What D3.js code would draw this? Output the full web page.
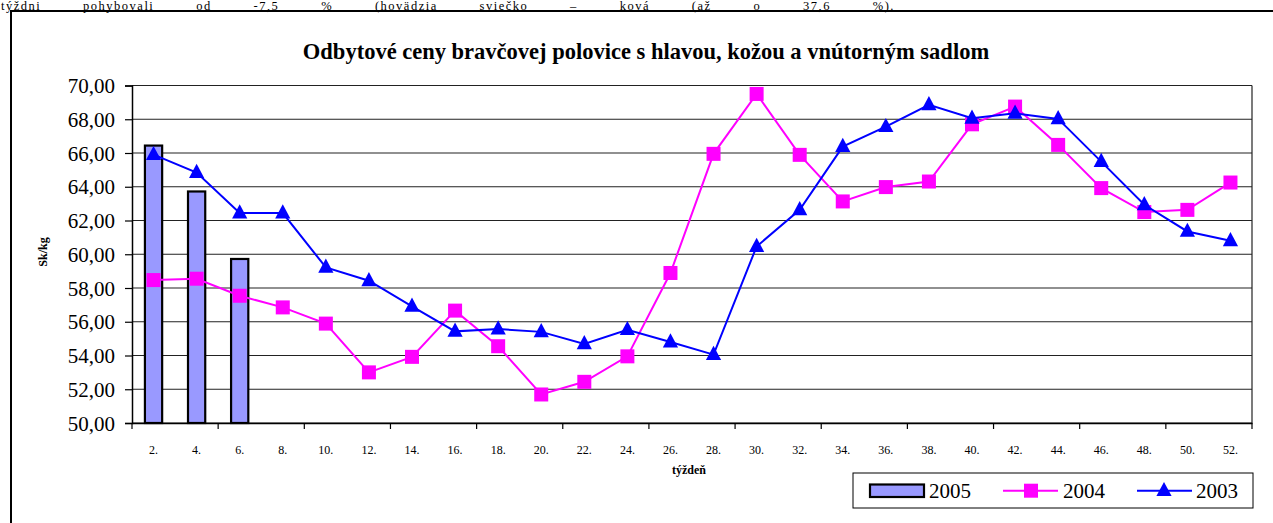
<!DOCTYPE html>
<html><head><meta charset="utf-8">
<script src="https://cdn.jsdelivr.net/npm/d3@7"></script>
<style>html,body{margin:0;padding:0;background:#fff;overflow:hidden}
svg text{font-family:"Liberation Serif","Tinos","Times New Roman","DejaVu Serif",serif;}</style>
</head><body>
<svg id="c" width="1273" height="523"></svg>
<script>
const weeks = ["2.","4.","6.","8.","10.","12.","14.","16.","18.","20.","22.","24.","26.","28.","30.","32.","34.","36.","38.","40.","42.","44.","46.","48.","50.","52."];
const s2005 = [66.44, 63.72, 59.72];
const s2004 = [58.47, 58.55, 57.54, 56.85, 55.89, 53.00, 53.92, 56.66, 54.55, 51.69, 52.44, 53.95, 58.89, 65.95, 69.50, 65.89, 63.13, 63.98, 64.31, 67.70, 68.75, 66.48, 63.92, 62.50, 62.63, 64.25];
const s2003 = [65.90, 64.84, 62.44, 62.44, 59.22, 58.43, 56.91, 55.43, 55.57, 55.40, 54.69, 55.53, 54.80, 54.05, 60.46, 62.63, 66.38, 67.56, 68.85, 68.06, 68.35, 68.02, 65.49, 62.93, 61.35, 60.80];
const yTicks = [50,52,54,56,58,60,62,64,66,68,70];
const seriesNames = ["2005","2004","2003"];
const titleText = "Odbytové ceny bravčovej polovice s hlavou, kožou a vnútorným sadlom";
const yTitle = "Sk/kg";
const xTitle = "týždeň";
const topText = "týždni pohybovali od -7,5 % (hovädzia sviečko – ková (až o 37,6 %).";

const svg = d3.select("#c");
const L = 132, R = 1252, T = 85.5, B = 423;

// top document text (justified line above the chart frame)
const tt = svg.append("text").attr("x",1).attr("y",10).attr("font-size",12.5)
  .attr("letter-spacing",1.5).text(topText);
const natural = tt.node().getComputedTextLength();
const nSpaces = (topText.match(/ /g) || []).length;
tt.attr("word-spacing", Math.max(0, (894 - natural) / nSpaces));

// frame
svg.append("path").attr("d","M11,523 V11 H1280").attr("fill","none").attr("stroke","#000").attr("stroke-width",2);

const x = d3.scaleBand().domain(weeks).range([L,R]).padding(0);
const y = d3.scaleLinear().domain([50,70]).range([B,T]);
const cx = d => x(d) + x.bandwidth()/2;

// gridlines
svg.append("g").selectAll("line").data(yTicks).join("line")
  .attr("x1",L).attr("x2",R).attr("y1",d=>y(d)).attr("y2",d=>y(d))
  .attr("stroke","#222").attr("stroke-width",1.2);
svg.append("line").attr("x1",R).attr("x2",R).attr("y1",T).attr("y2",B).attr("stroke","#222").attr("stroke-width",1.2);

// y axis
const fmt = d => d3.format(".2f")(d).replace(".",",");
const ya = svg.append("g").attr("transform",`translate(${L},0)`)
  .call(d3.axisLeft(y).tickValues(yTicks).tickFormat(fmt).tickSize(7).tickPadding(10));
ya.select(".domain").attr("stroke","#000").attr("stroke-width",1.5);
ya.selectAll(".tick line").attr("stroke","#000").attr("stroke-width",1.2);
ya.selectAll("text").attr("font-family",null).attr("font-size",21).attr("fill","#000").attr("dy","0.34em");

// x axis
const xa = svg.append("g").attr("transform",`translate(0,${B})`)
  .call(d3.axisBottom(x).tickSize(0).tickPadding(22));
xa.select(".domain").attr("stroke","#000").attr("stroke-width",1.5);
xa.selectAll("text").attr("font-family",null).attr("font-size",12).attr("fill","#000");
const bounds = d3.range(0, weeks.length+1, 2).map(i => L + i*x.step());
svg.append("g").selectAll("line").data(bounds).join("line")
  .attr("x1",d=>d).attr("x2",d=>d).attr("y1",B).attr("y2",B+6).attr("stroke","#000").attr("stroke-width",1.2);

// bars 2005
const bw = x.bandwidth()*0.4;
svg.append("g").selectAll("rect").data(s2005).join("rect")
  .attr("x",(d,i)=>cx(weeks[i])-bw/2).attr("width",bw)
  .attr("y",d=>y(d)).attr("height",d=>B-y(d))
  .attr("fill","#9999FF").attr("stroke","#000").attr("stroke-width",2.2);

const line = d3.line().x((d,i)=>cx(weeks[i])).y(d=>y(d));
const tri = "M0,-8.8 L7.6,5.4 L-7.6,5.4 Z";

// 2004
svg.append("path").datum(s2004).attr("d",line).attr("fill","none").attr("stroke","#FF00FF").attr("stroke-width",2);
svg.append("g").selectAll("rect").data(s2004).join("rect")
  .attr("x",(d,i)=>cx(weeks[i])-7).attr("y",d=>y(d)-7).attr("width",14).attr("height",14).attr("fill","#FF00FF");
// 2003
svg.append("path").datum(s2003).attr("d",line).attr("fill","none").attr("stroke","#0000FF").attr("stroke-width",2);
svg.append("g").selectAll("path").data(s2003).join("path")
  .attr("d",tri).attr("transform",(d,i)=>`translate(${cx(weeks[i])},${y(d)})`).attr("fill","#0000FF");

// titles
svg.append("text").attr("x",646).attr("y",59).attr("text-anchor","middle")
  .attr("font-weight","bold").attr("font-size",22.5).text(titleText);
svg.append("text").attr("transform","translate(47,252) rotate(-90)").attr("text-anchor","middle")
  .attr("font-weight","bold").attr("font-size",12).text(yTitle);
svg.append("text").attr("x",689).attr("y",474).attr("text-anchor","middle")
  .attr("font-weight","bold").attr("font-size",12).text(xTitle);

// legend
const lg = svg.append("g");
lg.append("rect").attr("x",853).attr("y",473).attr("width",400).attr("height",35).attr("fill","#fff").attr("stroke","#000").attr("stroke-width",1);
lg.append("rect").attr("x",870).attr("y",484.5).attr("width",54).attr("height",12.5).attr("fill","#9999FF").attr("stroke","#000").attr("stroke-width",2.2);
lg.append("line").attr("x1",1003).attr("x2",1058).attr("y1",490.7).attr("y2",490.7).attr("stroke","#FF00FF").attr("stroke-width",2);
lg.append("rect").attr("x",1031-7).attr("y",490.7-7).attr("width",14).attr("height",14).attr("fill","#FF00FF");
lg.append("line").attr("x1",1137).attr("x2",1192).attr("y1",490.7).attr("y2",490.7).attr("stroke","#0000FF").attr("stroke-width",2);
lg.append("path").attr("d",tri).attr("transform","translate(1164,490.7)").attr("fill","#0000FF");
const lx = [929,1063,1196];
seriesNames.forEach((n,i)=>{
  lg.append("text").attr("x",lx[i]).attr("y",498).attr("font-size",21).text(n);
});
</script>
</body></html>
